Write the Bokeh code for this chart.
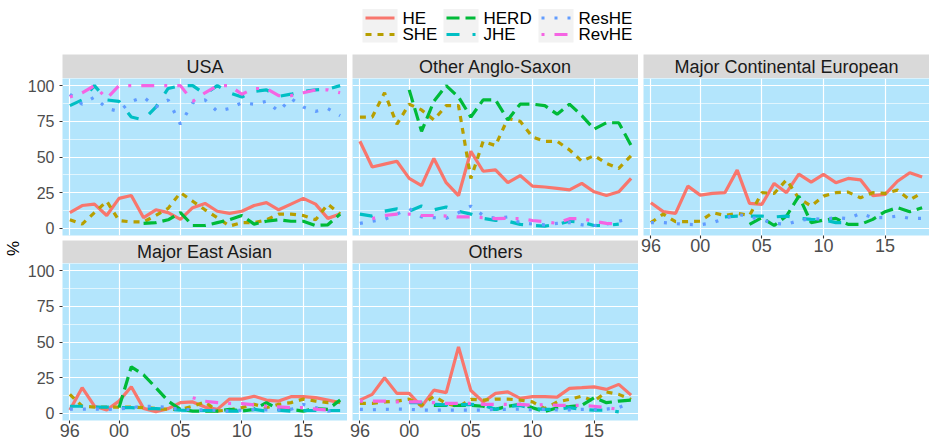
import math
from bokeh.plotting import figure
from bokeh.models import Range1d, FixedTicker, Label, ColumnDataSource
from bokeh.layouts import column, row
from bokeh.embed import file_html
from bokeh.resources import INLINE
from bokeh.core.properties import value

nan = float("nan")

# ---------------- data ----------------
years = list(range(1996, 2019))
series = ["HE", "SHE", "HERD", "JHE", "ResHE", "RevHE"]
colors = ["#F8766D", "#B79F00", "#00BA38", "#00BFC4", "#619CFF", "#F564E3"]
dashes = ["solid", "6 6", "13 6", "13 13", "3 10", "3 10 13 10"]
x_tick_years = [1996, 2000, 2005, 2010, 2015]
x_tick_labels = ["96", "00", "05", "10", "15"]
y_ticks = [0, 25, 50, 75, 100]
y_minor = [12.5, 37.5, 62.5, 87.5]
panel_titles = ["USA", "Other Anglo-Saxon", "Major Continental European",
                "Major East Asian", "Others"]

usa_he = [11, 16, 17, 9, 21, 23, 7.5, 13, 11, 6.3, 14.5, 17.5, 12, 10.5, 12, 16, 18, 13, 17, 21, 17, 7, 10]
usa_she = [6, 3, 11, 19, 5.5, 4.5, 4.5, 9, 14, 25, 19, 13, 7.5, 1.6, 4, 4, 6, 10, 10, 9, 6, 17, 10]
usa_herd = [nan, nan, nan, nan, nan, nan, 3.5, 4, 6, 11, 2, 2, 4, 6, 9, 3, 5, 6, 5, 5, 2, 2.5, 10]
usa_jhe = [86, 90, 100, 90, 89, 78, 76, 85, 98, 100, 100, 94, 100, 95, 92, 96, 97, 92.5, 94, 96, 97, 97.5, 100]
usa_reshe = [94, 87, 92, 84, 82, 89, 92, 85, 90, 73, 88, 90, 82, 84, 88, 87, 89, 82, 91, 85, 82, 84, 79]
usa_revhe = [92, 95, 100, 91, 100, 100, 100, 100, 100, 100, 89, 95, 100, 100, 94, 98, 98, 93, 93, 95, 97, 97, 95]

ang_he = [61, 43, 45, 47, 35, 30, 49, 32, 23, 54, 40, 41, 32, 37, 29.6, 29, 28, 27, 31.5, 25.6, 23, 25.6, 35]
ang_she = [78, 78, 95, 73, 87, 83, 76, 86, 86, 35, 61, 58, 77, 75, 64, 61, 61, 55, 47, 51, 45.5, 42, 51]
ang_herd = [nan, nan, nan, nan, 97, 68, 89, 100, 92, 78, 90, 90, 76, 87, 87, 86, 80, 87, 79, 69.5, 74, 74, 58]
ang_jhe = [10, 8.6, 12, 13.7, 12, 15.6, 13, 15, 12, 10, 7, 5.6, 5, 2.8, 2, 1.6, 2.8, 5, 4.4, 2, 2, 3, nan]
ang_reshe = [3.5, 5, 6.3, 10, 13.8, 8, 7.5, 7, 11, 15.6, 9, 7, 8, 4, 3, 2.5, 3.5, 4, 2.5, 2, 3, 5, 7]
ang_revhe = [nan, 6.8, 9, 10, 10, 9, 9, 8.6, 8, 8, 7.5, 6.8, 7, 6.8, 5.5, 4.7, 3.5, 6.8, 6.8, 5, 3.5, 3, nan]

eur_he = [18, 11.7, 10.5, 29.6, 23.3, 24.5, 25, 40.8, 17.5, 16.8, 31.5, 25, 38, 32.4, 37.8, 32, 35, 34, 23, 23.8, 33, 39, 36]
eur_she = [4, 10, 4.7, 4.7, 5, 11, 9, 10.5, 9, 25, 24.5, 34, 21, 15.6, 22.6, 25, 25.4, 21.4, 25, 24.5, 26.8, 20, 25]
eur_herd = [nan, nan, nan, nan, nan, nan, nan, nan, 2.8, 7.5, 2, 8.6, 22.6, 4, 5.8, 7, 2.8, 2.8, 6.3, 11.7, 14.5, 11.7, 14.5]
eur_jhe = [nan, nan, nan, nan, nan, nan, 8, 8.6, 8.6, 8.6, 8, 8.6, 7, 6.3, 6, 4, 4, nan, nan, nan, nan, nan, nan]
eur_reshe = [4, 4, 3.3, 2.8, 2.5, 4, 7, 10, 8, 6, 3.5, 2.8, 5.5, 6.8, 6.3, 7.5, 6.8, 10.5, 7.5, 7.5, 8.6, 7, 7]
eur_revhe = [nan] * 23

eas_he = [2.3, 18, 5, 2.3, 8.6, 18.6, 3.5, 1.2, 3.3, 7.5, 8, 4.4, 2.8, 10, 10, 12, 9.3, 8.6, 11.7, 11.7, 11, 9.3, 7.5]
eas_she = [13.3, 5, 4.4, 4.4, 4.4, 4.4, 4, 3.5, 2.8, 2.8, 5, 8, 1.6, 2.5, 4, 6.3, 4, 6.3, 7.5, 10, 8.6, 7.5, 8]
eas_herd = [nan, nan, nan, nan, 4, 32.6, 27, 18, 8.6, 2.8, 1.6, 1.6, 1.6, 2.8, 1.6, 2.8, 7.5, 2.8, 2.8, 1.6, 3.3, 2.8, 9.3]
eas_jhe = [5, 5, 4.4, 4.4, 4, 4, 3.3, 3.3, 2.8, 2.3, 2, 2, 2, 1.6, 1.6, 2.8, 1.6, 2.3, 1.6, 2, 2, 2, 2]
eas_reshe = [3, 3, 3, 2.8, 3, 4, 5, 5, 4, 2.8, 2.5, 2.5, 2, 1.6, 2.3, 2.8, 2.5, 2.5, 2.8, 6.3, 4, 1.6, 2]
eas_revhe = [nan, nan, nan, nan, nan, nan, nan, nan, nan, nan, 11, 8.5, 7.5, 7, 6.8, 6, 5, 4.5, 4, 4, 3, 2.3, nan]

oth_he = [9.3, 13.3, 25, 14, 14, 4.7, 16.3, 14.5, 46.6, 16, 8, 14, 15, 10.5, 11.7, 11.7, 11.4, 17.5, 18, 18.6, 16.8, 20.3, 12.8]
oth_she = [7, 7, 8, 8.6, 10, 5.6, 12, 7, 4.7, 9.8, 9.3, 10, 10, 9.3, 8, 3.3, 8, 9.8, 12, 8.6, 15, 13.3, 9.8]
oth_herd = [nan, nan, nan, nan, nan, nan, 5.6, 5.6, 5.6, 5.6, 5, 2.8, 5, 6.3, 4, 1.2, 4, 4.7, 5.6, 11, 7.5, 8.6, 9.3]
oth_jhe = [nan, nan, nan, nan, 7.5, 7.5, 6.3, 6, 6, 6.3, 5.6, 2.8, 4.7, 5.6, 3.3, 2.8, 2.8, 4, 2.8, 2.3, 2.3, 1, nan]
oth_reshe = [2.8, 2.5, 2.8, 3, 2.8, 2.3, 2.3, 2.3, 2.3, 2.3, 2.3, 2.8, 2.8, 3, 2.5, 2.8, 2.5, 2.5, 2.8, 2.8, 3, 4, 8]
oth_revhe = [8.6, 8.6, 8.6, 8, 8, 8, 7.5, 7, 7, 7, 6.3, 6.3, 6.3, 6.3, 5.6, 6.3, 5.6, 5.6, 5.6, 5, 4, 2.8, nan]

panel_data = [
    [usa_he, usa_she, usa_herd, usa_jhe, usa_reshe, usa_revhe],
    [ang_he, ang_she, ang_herd, ang_jhe, ang_reshe, ang_revhe],
    [eur_he, eur_she, eur_herd, eur_jhe, eur_reshe, eur_revhe],
    [eas_he, eas_she, eas_herd, eas_jhe, eas_reshe, eas_revhe],
    [oth_he, oth_she, oth_herd, oth_jhe, oth_reshe, oth_revhe],
]

# ---------------- style ----------------
FONT = "Liberation Sans"
PANEL_BG = "#B3E5FC"
STRIP_BG = "#D9D9D9"
FW = 286          # frame width
FH = 157          # frame height
STRIP1_H = 24
STRIP2_H = 23
AXIS_H = 23
GAP = 5
LEFT1 = 37
LEFT = 5
LW = 3.2
PCT_W = 24
LEG_H = 54


def make_strip(title, left, h):
    s = figure(width=left + FW, height=h, output_backend="svg", toolbar_location=None,
               x_range=Range1d(0, 1), y_range=Range1d(0, 1),
               x_axis_location=None, y_axis_location=None,
               min_border_left=left, min_border_right=0, min_border_top=0, min_border_bottom=0,
               background_fill_color=STRIP_BG, border_fill_color="white", outline_line_color=None)
    s.grid.grid_line_color = None
    s.add_layout(Label(x=0.5, y=0.5, text=title, text_align="center", text_baseline="middle",
                       text_font=FONT, text_font_size="18px", text_color="#1A1A1A"))
    return s


def make_panel(data, show_y, show_x):
    left = LEFT1 if show_y else LEFT
    bottom = AXIS_H if show_x else GAP
    p = figure(width=left + FW, height=FH + bottom, output_backend="svg", toolbar_location=None,
               x_range=Range1d(1995.4, 2018.6), y_range=Range1d(-5, 105),
               x_axis_location="below" if show_x else None,
               y_axis_location="left" if show_y else None,
               min_border_left=left, min_border_right=0, min_border_top=0, min_border_bottom=bottom,
               background_fill_color=PANEL_BG, border_fill_color="white", outline_line_color=None)
    xt = FixedTicker(ticks=x_tick_years)
    yt = FixedTicker(ticks=y_ticks, minor_ticks=y_minor)
    p.xgrid.ticker = xt
    p.ygrid.ticker = yt
    p.grid.grid_line_color = "white"
    p.grid.grid_line_width = 1.2
    p.ygrid.minor_grid_line_color = "white"
    p.ygrid.minor_grid_line_width = 0.6
    for ax in list(p.xaxis) + list(p.yaxis):
        ax.axis_line_color = None
        ax.major_tick_line_color = "#333333"
        ax.major_tick_line_width = 1.1
        ax.major_tick_out = 3
        ax.major_tick_in = 0
        ax.minor_tick_out = 0
        ax.minor_tick_in = 0
        ax.major_label_text_font = FONT
        ax.major_label_text_color = "#4D4D4D"
    if show_x:
        ax = p.xaxis[0]
        ax.ticker = xt
        ax.major_label_overrides = {y: l for y, l in zip(x_tick_years, x_tick_labels)}
        ax.major_label_text_font_size = "18px"
        ax.major_label_standoff = 0
    if show_y:
        ax = p.yaxis[0]
        ax.ticker = yt
        ax.major_label_text_font_size = "16px"
        ax.major_label_standoff = 5
    src = ColumnDataSource(dict(year=years, **{n: v for n, v in zip(series, data)}))
    for n, c, d in zip(series, colors, dashes):
        p.line(x="year", y=n, source=src, line_color=c, line_width=LW, line_dash=d)
    return p


p_usa = make_panel(panel_data[0], True, False)
p_ang = make_panel(panel_data[1], False, False)
p_eur = make_panel(panel_data[2], False, True)
p_eas = make_panel(panel_data[3], True, True)
p_oth = make_panel(panel_data[4], False, True)

col1 = column(make_strip(panel_titles[0], LEFT1, STRIP1_H), p_usa,
              make_strip(panel_titles[3], LEFT1, STRIP2_H), p_eas)
col2 = column(make_strip(panel_titles[1], LEFT, STRIP1_H), p_ang,
              make_strip(panel_titles[4], LEFT, STRIP2_H), p_oth)
col3 = column(make_strip(panel_titles[2], LEFT, STRIP1_H), p_eur)

# y-axis title
BODY_H = STRIP1_H + FH + GAP + STRIP2_H + FH + AXIS_H
pct = figure(width=PCT_W, height=BODY_H, output_backend="svg", toolbar_location=None,
             x_range=Range1d(0, PCT_W), y_range=Range1d(BODY_H, 0),
             x_axis_location=None, y_axis_location=None,
             min_border_left=0, min_border_right=0, min_border_top=0, min_border_bottom=0,
             background_fill_color="white", border_fill_color="white", outline_line_color=None)
pct.grid.grid_line_color = None
pct.add_layout(Label(x=13, y=194, text="%", angle=math.pi / 2, text_align="center",
                     text_baseline="middle", text_font=FONT, text_font_size="17px",
                     text_color="black"))

# legend (drawn as its own small figure)
TOTAL_W = PCT_W + LEFT1 + FW + 2 * (LEFT + FW)
leg = figure(width=TOTAL_W, height=LEG_H, output_backend="svg", toolbar_location=None,
             x_range=Range1d(0, TOTAL_W), y_range=Range1d(LEG_H, 0),
             x_axis_location=None, y_axis_location=None,
             min_border_left=0, min_border_right=0, min_border_top=0, min_border_bottom=0,
             background_fill_color="white", border_fill_color="white", outline_line_color=None)
leg.grid.grid_line_color = None
key_w = 35
col_x0 = [362, 443, 538]
row_y = [17.5, 34]
leg.quad(left=col_x0, right=[x + key_w for x in col_x0],
         top=[8.5] * 3, bottom=[42] * 3, fill_color="#F2F2F2", line_color=None)
for i, (n, c, d) in enumerate(zip(series, colors, dashes)):
    cx = col_x0[i // 2]
    cy = row_y[i % 2]
    leg.line(x=[cx + 3, cx + key_w - 3], y=[cy, cy], line_color=c, line_width=LW, line_dash=d)
leg.text(x=[col_x0[i // 2] + key_w + 5 for i in range(6)], y=[row_y[i % 2] for i in range(6)],
         text=series, text_font=value(FONT), text_font_size="17px", text_color="black",
         text_align="left", text_baseline="middle")

layout = column(leg, row(pct, col1, col2, col3))

open("out.html", "w").write(file_html(layout, INLINE, "chart"))
